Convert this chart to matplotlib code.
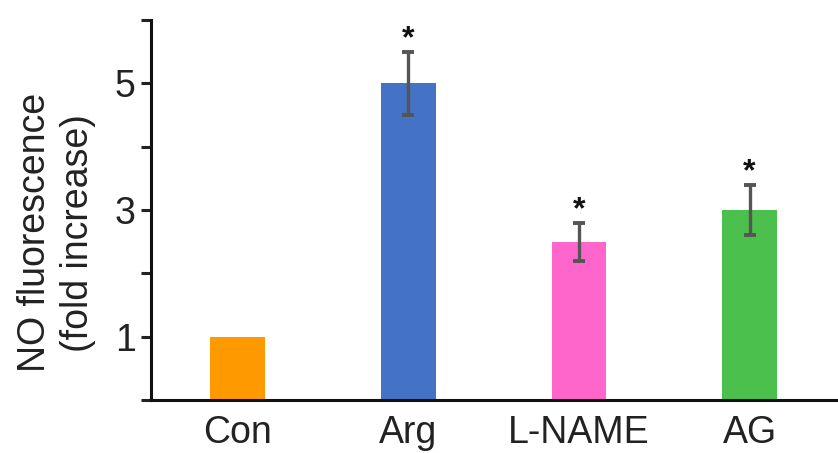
import matplotlib
matplotlib.use("Agg")
import matplotlib.pyplot as plt

plt.rcParams["font.family"] = ["Liberation Sans", "DejaVu Sans"]

groups = ["Con", "Arg", "L-NAME", "AG"]
values = [1.0, 5.0, 2.5, 3.0]
errors = [0.0, 0.5, 0.3, 0.4]
colors = ["#FF9900", "#4472C4", "#FF66CC", "#4CC04C"]
marks = ["", "*", "*", "*"]

y_ticks = [0, 1, 2, 3, 4, 5, 6]
y_tick_labels = ["", "1", "", "3", "", "5", ""]


def main():
    fig = plt.figure(figsize=(8.38, 4.53), dpi=100)
    ax = fig.add_axes([0.1802, 0.117, 0.8198, 0.839])

    x = list(range(len(groups)))
    ax.bar(x, values, width=0.32, color=colors, zorder=2)

    for xi, v, e, m in zip(x, values, errors, marks):
        if e > 0:
            ax.errorbar(xi, v, yerr=e, fmt="none", ecolor="#555555",
                        elinewidth=2.4, capsize=4.5, capthick=2.8, zorder=3)
        if m:
            # star sits just above the top of the error bar
            ax.text(xi, v + e + 0.07, m, ha="center", va="baseline",
                    fontsize=23, fontweight="bold", color="#111111")

    ax.set_xlim(-0.507, 3.518)
    ax.set_ylim(0, 6)
    ax.set_yticks(y_ticks)
    ax.set_yticklabels(y_tick_labels)
    ax.set_xticks(x)
    ax.set_xticklabels(groups)

    ax.tick_params(axis="y", length=7, width=2.2, labelsize=27, pad=4,
                   colors="#222222")
    ax.tick_params(axis="x", length=0, labelsize=27, pad=11,
                   colors="#222222")

    for side in ["top", "right"]:
        ax.spines[side].set_visible(False)
    for side in ["left", "bottom"]:
        ax.spines[side].set_linewidth(2.2)
        ax.spines[side].set_color("#111111")

    fig.text(0.068, 0.486, "NO fluorescence\n(fold increase)", rotation=90,
             ha="center", va="center", multialignment="center",
             fontsize=27, color="#222222", linespacing=1.25)

    fig.savefig("out.png", dpi=100)
    plt.close(fig)


if __name__ == "__main__":
    main()
